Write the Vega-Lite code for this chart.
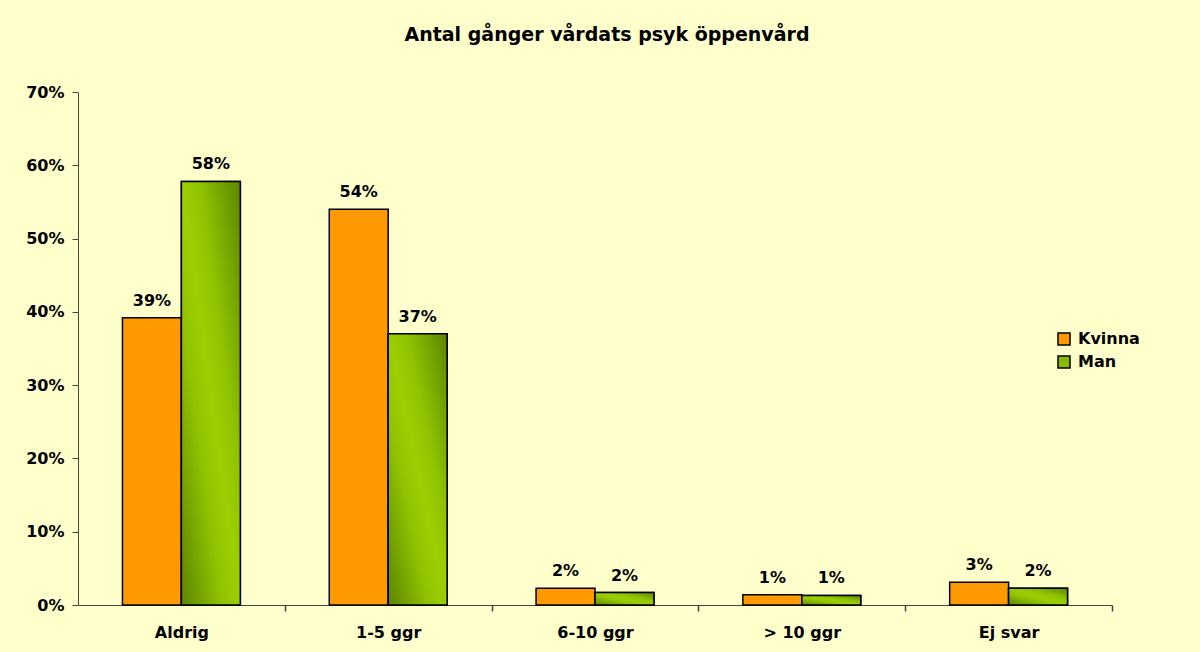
{
  "$schema": "https://vega.github.io/schema/vega-lite/v6.json",
  "autosize": {"type": "none"},
  "padding": {"left": 78, "top": 92, "right": 88, "bottom": 47},
  "width": 1034,
  "height": 513,
  "background": "#FFFFCC",
  "config": {
    "view": {"stroke": null},
    "font": "DejaVu Sans"
  },
  "title": {
    "text": "Antal gånger vårdats psyk öppenvård",
    "font": "DejaVu Sans",
    "fontSize": 19,
    "fontWeight": "bold",
    "color": "#000000",
    "anchor": "middle",
    "baseline": "alphabetic",
    "offset": 24,
    "dx": 12
  },
  "data": {
    "values": [
      {"kategori": "Aldrig", "kon": "Kvinna", "andel": 0.392},
      {"kategori": "Aldrig", "kon": "Man", "andel": 0.578},
      {"kategori": "1-5 ggr", "kon": "Kvinna", "andel": 0.540},
      {"kategori": "1-5 ggr", "kon": "Man", "andel": 0.370},
      {"kategori": "6-10 ggr", "kon": "Kvinna", "andel": 0.023},
      {"kategori": "6-10 ggr", "kon": "Man", "andel": 0.017},
      {"kategori": "> 10 ggr", "kon": "Kvinna", "andel": 0.014},
      {"kategori": "> 10 ggr", "kon": "Man", "andel": 0.013},
      {"kategori": "Ej svar", "kon": "Kvinna", "andel": 0.031},
      {"kategori": "Ej svar", "kon": "Man", "andel": 0.023}
    ]
  },
  "encoding": {
    "x": {
      "field": "kategori",
      "type": "nominal",
      "sort": ["Aldrig", "1-5 ggr", "6-10 ggr", "> 10 ggr", "Ej svar"],
      "scale": {"paddingInner": 0.43, "paddingOuter": 0.215},
      "axis": {
        "title": null,
        "labelAngle": 0,
        "labelFont": "DejaVu Sans",
        "labelFontSize": 16,
        "labelFontWeight": "bold",
        "labelColor": "#000000",
        "labelPadding": 13,
        "ticks": true,
        "bandPosition": 1,
        "tickExtra": false,
        "tickOffset": 44.5,
        "labelOffset": -44.5,
        "tickSize": 6,
        "tickWidth": 1.5,
        "tickColor": "#444444",
        "domainColor": "#444444",
        "grid": false
      }
    },
    "xOffset": {"field": "kon", "type": "nominal", "sort": ["Kvinna", "Man"]},
    "y": {
      "field": "andel",
      "type": "quantitative",
      "scale": {"domain": [0, 0.7], "nice": false},
      "axis": {
        "title": null,
        "format": ".0%",
        "values": [0, 0.1, 0.2, 0.3, 0.4, 0.5, 0.6, 0.7],
        "labelFont": "DejaVu Sans",
        "labelFontSize": 16,
        "labelFontWeight": "bold",
        "labelColor": "#000000",
        "labelPadding": 8,
        "tickSize": 6,
        "tickColor": "#444444",
        "domainColor": "#444444",
        "grid": false
      }
    }
  },
  "layer": [
    {
      "mark": {"type": "bar", "stroke": "#000000", "strokeWidth": 1.5},
      "encoding": {
        "color": {
          "field": "kon",
          "type": "nominal",
          "scale": {"domain": ["Kvinna", "Man"], "range": ["#FF9900", "#88BB00"]},
          "legend": {
            "title": null,
            "orient": "none",
            "legendX": 978,
            "legendY": 239,
            "padding": 0,
            "symbolType": "square",
            "symbolSize": 144,
            "symbolStrokeColor": "#000000",
            "symbolStrokeWidth": 1.5,
            "symbolOpacity": 1,
            "labelFont": "DejaVu Sans",
            "labelFontSize": 16,
            "labelFontWeight": "bold",
            "labelColor": "#000000",
            "labelOffset": 6,
            "rowPadding": 5
          }
        }
      }
    },
    {
      "transform": [{"filter": "datum.kon === 'Man'"}],
      "mark": {
        "type": "bar",
        "stroke": "#000000",
        "strokeWidth": 1.5,
        "fill": {
          "gradient": "linear",
          "x1": 1, "y1": 0, "x2": 0, "y2": 1,
          "stops": [
            {"offset": 0, "color": "#5C8500"},
            {"offset": 0.35, "color": "#90C300"},
            {"offset": 0.5, "color": "#9CCF00"},
            {"offset": 0.65, "color": "#90C300"},
            {"offset": 1, "color": "#5C8500"}
          ]
        }
      }
    },
    {
      "mark": {
        "type": "text",
        "baseline": "alphabetic",
        "dy": -12,
        "font": "DejaVu Sans",
        "fontSize": 16,
        "fontWeight": "bold",
        "color": "#000000"
      },
      "encoding": {
        "text": {"field": "andel", "type": "quantitative", "format": ".0%"}
      }
    }
  ]
}
